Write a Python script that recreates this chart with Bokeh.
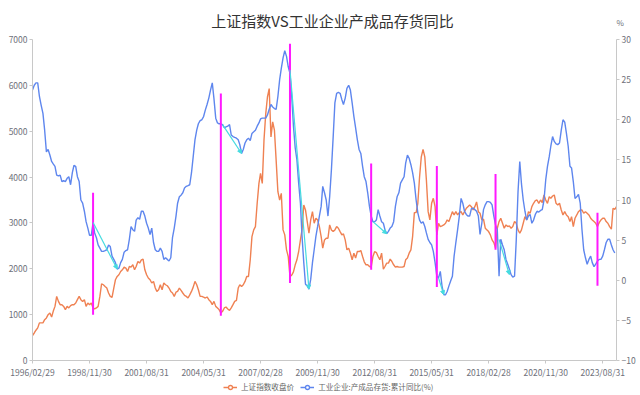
import pandas as pd
from bokeh.plotting import figure
from bokeh.layouts import column
from bokeh.models import (Range1d, LinearAxis, FixedTicker, DatetimeTickFormatter,
                          Legend, LegendItem, Label, Arrow, NormalHead, ColumnDataSource)
from bokeh.embed import file_html
from bokeh.resources import INLINE

# ---------------- data ----------------
title_text = "上证指数VS工业企业产成品存货同比"
series_names = ["上证指数收盘价", "工业企业:产成品存货:累计同比(%)"]
right_unit = "%"

start_month = "1996-02-29"          # first category (month ends)
n_months = 339                      # 1996/02 .. 2024/04

tick_labels = ["1996/02/29", "1998/11/30", "2001/08/31", "2004/05/31", "2007/02/28",
               "2009/11/30", "2012/08/31", "2015/05/31", "2018/02/28", "2020/11/30",
               "2023/08/31"]

# 上证指数收盘价 (monthly, 1996/02 ..)
sse = [
    543, 600, 660, 711, 820, 820, 820, 891, 928, 1000, 1037,                      # 1996
    950, 1072, 1180, 1398, 1289, 1217, 1217, 1180, 1109, 1180, 1146, 1196,        # 1997
    1217, 1217, 1254, 1326, 1398, 1326, 1289, 1326, 1180, 1254, 1217, 1254,       # 1998
    1146, 1124, 1146, 1180, 1398, 1674, 1652, 1615, 1580, 1472, 1398, 1376,       # 1999
    1580, 1761, 1833, 1870, 1941, 1978, 2037, 2015, 1941, 2050, 2037, 2087,       # 2000
    1978, 2050, 2159, 2124, 2196, 2211, 1978, 1870, 1798, 1761, 1689, 1724,       # 2001
    1580, 1507, 1543, 1652, 1543, 1689, 1652, 1630, 1580, 1507, 1472, 1398,       # 2002
    1490, 1507, 1580, 1530, 1472, 1420, 1398, 1363, 1430, 1507, 1600, 1724,       # 2003
    1652, 1543, 1398, 1398, 1380, 1363, 1385, 1326, 1289, 1217, 1289, 1180,       # 2004
    1146, 1109, 1037, 1072, 1146, 1167, 1124, 1094, 1146, 1217, 1289, 1311,       # 2005
    1580, 1652, 1615, 1652, 1724, 1833, 1833, 2196, 2702, 2848, 2920, 3428,       # 2006
    3863, 4081, 3863, 4805, 5385, 5746, 5929, 4876, 5203, 5022, 4370, 3681,       # 2007
    3500, 3646, 2848, 2739, 2413, 2268, 1826, 1863, 1934, 2087, 2196, 2377,       # 2008
    2630, 2848, 3392, 3283, 3029, 2775, 3066, 3246, 2993, 3102, 3066, 2920,       # 2009
    2702, 2450, 2630, 2667, 2667, 2957, 2848, 2811, 2848, 2920, 2885, 2811,       # 2010
    2739, 2761, 2630, 2413, 2450, 2341, 2196, 2341, 2233, 2376, 2376, 2398,       # 2011
    2267, 2152, 2087, 2087, 2050, 2037, 2267, 2376, 2354, 2267, 2196, 2341,       # 2012
    1993, 2050, 2124, 2124, 2211, 2159, 2087, 2037, 2050, 2037, 2037, 2037,       # 2013
    2050, 2196, 2233, 2341, 2413, 2702, 3224, 3224, 3428, 4007, 4441, 4602,       # 2014
    4441, 3935, 3246, 3066, 3428, 3536, 3355, 2739, 2993, 2920, 2935, 2957,       # 2015
    2993, 3066, 3029, 3137, 3246, 3174, 3246, 3174, 3224, 3246, 3174, 3246,       # 2016
    3320, 3355, 3392, 3355, 3283, 3355, 3457, 3246, 3211, 3066, 3081, 2885,       # 2017
    2848, 2811, 2739, 2630, 2572, 2450, 2885, 3029, 3100, 2993, 2885, 2957,       # 2018
    2920, 2935, 2885, 2920, 3029, 2993, 2848, 2775, 2848, 2993, 3137, 3066,       # 2019
    3246, 3211, 3355, 3428, 3485, 3500, 3428, 3500, 3442, 3609, 3500, 3428,       # 2020
    3572, 3536, 3587, 3609, 3428, 3392, 3428, 3283, 3174, 3246, 3174, 3137,       # 2021
    3029, 3137, 2920, 3102, 3174, 3246, 3283, 3283, 3211, 3246, 3211, 3174,       # 2022
    3102, 3066, 3029, 2993, 2920, 3007, 3066, 3102, 3102, 3029, 2993, 2920,       # 2023
    2863, 3320, 3297, 3355,                                                       # 2024
]

# 工业企业:产成品存货:累计同比(%) (monthly, 1996/02 ..)
inventory = [
    23.7, 24.3, 24.6, 24.6, 22.9, 21.8, 20.8, 18.7, 16.0, 16.3, 15.6,             # 1996
    14.8, 14.5, 14.2, 13.1, 13.0, 13.1, 12.3, 12.4, 12.3, 12.7, 12.9, 11.9,       # 1997
    13.4, 14.3, 14.2, 12.9, 12.3, 10.0, 9.6, 8.6, 7.3, 6.5, 5.6, 5.6,             # 1998
    7.2, 5.9, 5.3, 4.4, 4.0, 3.6, 3.6, 3.7, 3.8, 4.4, 4.2, 3.0,                   # 1999
    2.6, 2.2, 1.4, 1.5, 2.2, 2.6, 3.5, 3.7, 3.8, 5.1, 6.7, 6.3,                   # 2000
    6.1, 7.5, 7.8, 7.6, 8.6, 8.6, 8.0, 7.1, 6.5, 5.7, 6.5, 4.7,                   # 2001
    3.8, 3.6, 3.6, 4.0, 3.6, 2.6, 2.8, 2.6, 2.4, 2.8, 5.3, 6.5,                   # 2002
    8.0, 9.6, 10.4, 10.6, 10.9, 11.5, 11.7, 11.8, 11.9, 13.4, 15.4, 17.5,         # 2003
    18.7, 19.5, 19.9, 20.0, 20.4, 21.2, 21.9, 22.7, 23.7, 24.6, 22.6, 20.2,       # 2004
    19.6, 19.5, 19.5, 19.4, 19.0, 19.1, 19.2, 19.4, 18.1, 17.9, 17.8, 17.7,       # 2005
    17.5, 16.9, 15.8, 16.3, 17.1, 17.5, 17.7, 17.4, 18.3, 18.5, 18.7, 19.2,       # 2006
    19.6, 20.1, 20.2, 20.2, 20.2, 20.6, 21.3, 21.9, 21.6, 21.4, 21.3, 22.9,       # 2007
    25.0, 26.4, 27.7, 28.6, 27.9, 26.6, 25.8, 22.9, 19.2, 16.5, 15.0, 12.1,       # 2008
    9.6, 5.5, 2.2, -0.5, -0.7, -1.1, 0.1, 2.2, 3.8, 5.5, 6.7, 8.0,                # 2009
    9.2, 11.7, 10.9, 10.0, 8.0, 10.4, 13.8, 17.9, 22.1, 23.3, 23.4, 23.3,         # 2010
    22.5, 21.9, 22.7, 23.9, 24.3, 23.7, 22.1, 20.4, 19.0, 17.5, 16.3, 15.8,       # 2011
    14.2, 12.9, 12.3, 10.9, 9.2, 8.0, 7.3, 7.3, 7.5, 8.8, 8.0, 7.3,               # 2012
    7.1, 6.3, 5.8, 6.1, 6.5, 6.7, 7.3, 9.2, 10.4, 10.9, 12.1, 12.5,               # 2013
    12.9, 14.6, 15.6, 15.2, 14.4, 13.4, 12.1, 10.0, 8.4, 7.5, 7.1, 7.3,           # 2014
    6.7, 5.9, 5.1, 4.7, 4.4, 3.6, 2.2, 0.5, 0.3, 1.1, -0.7, -1.8,                 # 2015
    -1.8, -1.4, -0.7, -0.1, 0.5, 3.0, 4.7, 6.3, 8.0, 10.2, 9.6, 8.6,              # 2016
    8.2, 8.0, 8.0, 8.9, 9.0, 8.8, 8.6, 8.0, 5.7, 7.1, 8.8, 9.4,                   # 2017
    9.8, 9.8, 9.7, 9.4, 8.0, 6.9, 6.3, 0.5, 5.1, 4.4, 3.8, 2.6,                   # 2018
    2.0, 1.4, 0.7, 0.4, 0.5, 5.0, 11.0, 14.8, 12.0, 10.0, 8.6, 7.5,               # 2019
    8.0, 8.2, 7.1, 7.5, 8.2, 8.6, 8.5, 8.7, 8.8, 10.0, 12.5, 14.2,                # 2020
    15.4, 16.7, 17.9, 17.3, 17.0, 16.9, 17.1, 18.7, 20.0, 19.7, 18.3, 16.7,       # 2021
    14.2, 14.0, 12.3, 10.2, 10.4, 10.7, 9.6, 6.3, 3.8, 2.8, 2.0, 2.6,             # 2022
    3.0, 2.2, 1.7, 2.0, 2.4, 2.6, 2.6, 3.0, 3.8, 4.7, 5.1, 5.1,                   # 2023
    4.4, 3.8, 3.4,                                                                # 2024
]

# magenta markers (left-axis units)
mark_dates = ["1999-01-31", "2005-03-31", "2008-07-31", "2012-06-30",
              "2015-08-31", "2018-06-30", "2023-05-31"]
mark_top = [3659, 5820, 6907, 4298, 4239, 4065, 3224]
mark_bottom = [1000, 978, 1689, 1978, 1602, 2413, 1630]

# cyan arrows (right-axis units)
arrow_start_dates = ["1999-01-31", "2005-04-30", "2008-07-31", "2012-07-31",
                     "2015-09-30", "2018-08-31"]
arrow_start_vals = [7.2, 19.4, 26.2, 7.3, 0.3, 5.1]
arrow_end_dates = ["2000-03-31", "2006-03-31", "2009-06-30", "2013-03-31",
                   "2015-12-31", "2019-02-28"]
arrow_end_vals = [1.4, 15.8, -1.1, 5.8, -1.8, 0.7]

# ---------------- styling ----------------
ORANGE = "#ef8152"
BLUE = "#5e86ee"
MAGENTA = "#ff19ff"
CYAN = "#45dbe0"
AXIS = "#c8c8c8"
LABEL = "#6e7079"
FONT = "Noto Sans CJK SC"
W = 640
FRAME_L, FRAME_R = 32, 616          # plot-frame edges shared by all rows


def bare_figure(height, y_range):
    f = figure(width=W, height=height, x_range=Range1d(FRAME_L, FRAME_R), y_range=y_range,
               x_axis_location=None, y_axis_location=None,
               output_backend="svg", toolbar_location=None,
               min_border_left=FRAME_L, min_border_right=W - FRAME_R,
               min_border_top=0, min_border_bottom=0)
    f.xgrid.visible = False
    f.ygrid.visible = False
    f.outline_line_color = None
    return f


# ---------- header strip: title, and the unit of the right axis ----------
head = bare_figure(30, Range1d(30, 0))
head.add_layout(Label(x=332, y=19.5, text=title_text, text_font=FONT, text_font_size="15px",
                      text_color="#333333", text_align="center", text_baseline="middle"))
unit_axis = LinearAxis(ticker=FixedTicker(ticks=[22]), major_label_overrides={22: right_unit},
                       axis_line_color=None, major_tick_line_color=None,
                       minor_tick_line_color=None, major_tick_out=0, major_tick_in=0,
                       major_label_standoff=0, major_label_text_font=FONT,
                       major_label_text_font_size="8px", major_label_text_color=LABEL)
head.add_layout(unit_axis, "right")

# ---------- main chart ----------
dates = pd.date_range(start_month, periods=n_months, freq=pd.offsets.MonthEnd())
x_start = dates[0].to_pydatetime()
x_end = dates[-1].to_pydatetime()

p = figure(width=W, height=350, x_axis_type="datetime",
           x_range=Range1d(x_start, x_end), y_range=Range1d(0, 7000),
           output_backend="svg", toolbar_location=None,
           min_border_left=FRAME_L, min_border_right=W - FRAME_R, min_border_top=9,
           min_border_bottom=19)
p.extra_y_ranges = {"inv": Range1d(-10, 30)}
p.xgrid.visible = False
p.ygrid.visible = False
p.outline_line_color = None

right_axis = LinearAxis(y_range_name="inv")
p.add_layout(right_axis, "right")

tick_ts = [pd.Timestamp(t.replace("/", "-")).value // 10**6 for t in tick_labels]
p.xaxis.ticker = FixedTicker(ticks=tick_ts)
fmt = "%Y/%m/%d"
p.xaxis.formatter = DatetimeTickFormatter(milliseconds=fmt, seconds=fmt, minsec=fmt,
                                          minutes=fmt, hourmin=fmt, hours=fmt,
                                          days=fmt, months=fmt, years=fmt)
p.yaxis[0].ticker = FixedTicker(ticks=list(range(0, 7001, 1000)))
right_axis.ticker = FixedTicker(ticks=list(range(-10, 31, 5)))

for ax in [p.xaxis[0], p.yaxis[0], right_axis]:
    ax.axis_line_color = AXIS
    ax.major_tick_line_color = AXIS
    ax.major_tick_out = 3
    ax.major_tick_in = 0
    ax.minor_tick_out = 0
    ax.minor_tick_in = 0
    ax.major_label_text_font = FONT
    ax.major_label_text_font_size = "8.5px"
    ax.major_label_text_color = LABEL
    ax.major_label_standoff = 2

p.line(dates, sse, color=ORANGE, line_width=1.4)
p.line(dates[:len(inventory)], inventory, color=BLUE, line_width=1.4, y_range_name="inv")

md = pd.to_datetime(mark_dates)
p.segment(x0=md, y0=mark_bottom, x1=md, y1=mark_top, color=MAGENTA, line_width=2)

asrc = ColumnDataSource(dict(xs=pd.to_datetime(arrow_start_dates), ys=arrow_start_vals,
                             xe=pd.to_datetime(arrow_end_dates), ye=arrow_end_vals))
p.add_layout(Arrow(source=asrc, x_start="xs", y_start="ys", x_end="xe", y_end="ye",
                   y_range_name="inv", line_color=CYAN, line_width=1.2,
                   end=NormalHead(size=4, fill_color=CYAN, line_color=CYAN, line_width=1)))

# ---------- legend strip ----------
leg = bare_figure(15, Range1d(0, 1))
# off-screen renderers, only used to draw the legend swatches
l1 = leg.line([-100, -90], [-5, -5], color=ORANGE, line_width=1.5)
s1 = leg.scatter([-95], [-5], marker="circle", size=7, line_color=ORANGE, fill_color="white", line_width=1.3)
l2 = leg.line([-100, -90], [-5, -5], color=BLUE, line_width=1.5)
s2 = leg.scatter([-95], [-5], marker="circle", size=7, line_color=BLUE, fill_color="white", line_width=1.3)
legend = Legend(items=[LegendItem(label=series_names[0], renderers=[l1, s1]),
                       LegendItem(label=series_names[1], renderers=[l2, s2])],
                orientation="horizontal", location=(191, 3),
                glyph_width=14, glyph_height=10, label_height=10,
                label_text_font=FONT, label_text_font_size="7.6px", label_text_color="#666666",
                label_standoff=4, spacing=6, padding=0, margin=0,
                border_line_color=None, background_fill_alpha=0)
leg.add_layout(legend)

layout = column(head, p, leg, spacing=0)
open("out.html", "w").write(file_html(layout, INLINE))
